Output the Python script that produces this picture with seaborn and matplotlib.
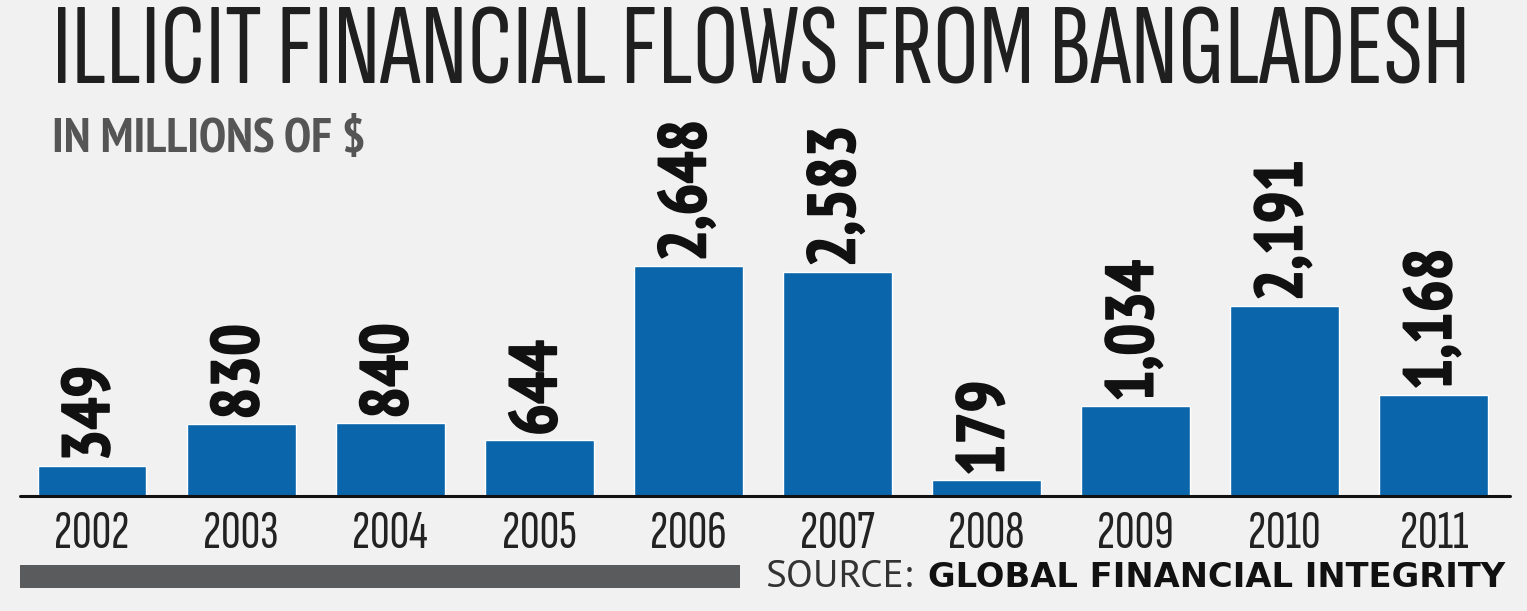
import matplotlib
matplotlib.use("Agg")
import matplotlib.pyplot as plt
import matplotlib.patheffects as pe
import seaborn as sns
import pandas as pd

years = ["2002", "2003", "2004", "2005", "2006", "2007", "2008", "2009", "2010", "2011"]
values = [349, 830, 840, 644, 2648, 2583, 179, 1034, 2191, 1168]
value_labels = ["349", "830", "840", "644", "2,648", "2,583", "179", "1,034", "2,191", "1,168"]

title = "ILLICIT FINANCIAL FLOWS FROM BANGLADESH"
subtitle = "IN MILLIONS OF $"
source_lead = "SOURCE:"
source_name = "GLOBAL FINANCIAL INTEGRITY"

sns.set_theme(style="white")
F_TITLE = ["Sofia Sans Extra Condensed", "DejaVu Sans"]
F_BOLD = ["PT Sans Narrow", "DejaVu Sans"]
F_REG = ["Sofia Sans Extra Condensed", "DejaVu Sans"]
F_SRC = ["PT Sans", "DejaVu Sans"]
plt.rcParams['font.family'] = F_BOLD

BG = "#f1f1f1"
BLUE = "#0b65aa"

W, H = 1527, 611
fig = plt.figure(figsize=(W / 100, H / 100), dpi=100, facecolor=BG)
renderer = fig.canvas.get_renderer()


def fit_width(t, target_px):
    bb = t.get_window_extent(renderer)
    t.set_fontsize(t.get_fontsize() * target_px / bb.width)


def fit_height(t, target_px):
    bb = t.get_window_extent(renderer)
    t.set_fontsize(t.get_fontsize() * target_px / bb.height)


# axes: baseline y=496, top y=100
ax = fig.add_axes([0, (H - 496) / H, 1, (496 - 100) / H])
ax.set_facecolor(BG)

df = pd.DataFrame({"year": years, "value": values})
sns.barplot(data=df, x="year", y="value", color=BLUE, saturation=1, width=0.73, ax=ax)

sp = 149.1
ax.set_xlim(-92 / sp, (W - 92) / sp)
ax.set_ylim(0, 396 / 0.0869)
for s in ax.spines.values():
    s.set_visible(False)
ax.set_yticks([])
ax.set_xticks([])
ax.set_xlabel("")
ax.set_ylabel("")
ax.axhline(0, xmin=20 / W, xmax=1510 / W, color="#111111", lw=2.2, clip_on=False)

bold_fx = [pe.withStroke(linewidth=1.2, foreground="#111111")]

# value labels
ref = ax.annotate(value_labels[4], (4, values[4]), xytext=(0, 3), textcoords="offset points",
                  rotation=90, ha="center", va="bottom", fontsize=40,
                  fontweight="bold", color="#111111", family=F_BOLD)
fit_height(ref, 142)
ref.set_path_effects(bold_fx)
vsize = ref.get_fontsize()
for i, (v, lab) in enumerate(zip(values, value_labels)):
    if i == 4:
        continue
    ax.annotate(lab, (i, v), xytext=(0, 3), textcoords="offset points",
                rotation=90, ha="center", va="bottom", fontsize=vsize,
                fontweight="bold", color="#111111", family=F_BOLD,
                path_effects=bold_fx)

# year labels
yref = ax.annotate(years[0], (0, 0), xytext=(0, -11), textcoords="offset points",
                   ha="center", va="top", fontsize=30, color="#222222", family=F_REG)
fit_width(yref, 75)
ysize = yref.get_fontsize()
for i in range(1, len(years)):
    ax.annotate(years[i], (i, 0), xytext=(0, -11), textcoords="offset points",
                ha="center", va="top", fontsize=ysize, color="#222222", family=F_REG)

t1 = fig.text(52 / W, 1 - 83 / H, title, fontsize=60, color="#1f1f1f",
              ha="left", va="baseline", family=F_TITLE)
fit_width(t1, 1418)
t2 = fig.text(52 / W, 1 - 152 / H, subtitle, fontsize=33, color="#555555",
              fontweight="bold", ha="left", va="baseline", family=F_BOLD)
fit_width(t2, 315)

# gray bar at bottom
fig.add_artist(plt.Rectangle((20 / W, 1 - 588 / H), 720 / W, 23 / H,
                             transform=fig.transFigure, color="#5a5b5d", lw=0))
t3 = fig.text(765 / W, 1 - 587 / H, source_lead, fontsize=24, color="#333333",
              ha="left", va="baseline", family=F_SRC)
fit_width(t3, 147)
t4 = fig.text(1505 / W, 1 - 587 / H, source_name, fontsize=21,
              color="#111111", fontweight="bold", ha="right", va="baseline",
              family=["DejaVu Sans"])
fit_width(t4, 577)

fig.savefig("out.png", dpi=100, facecolor=BG)
